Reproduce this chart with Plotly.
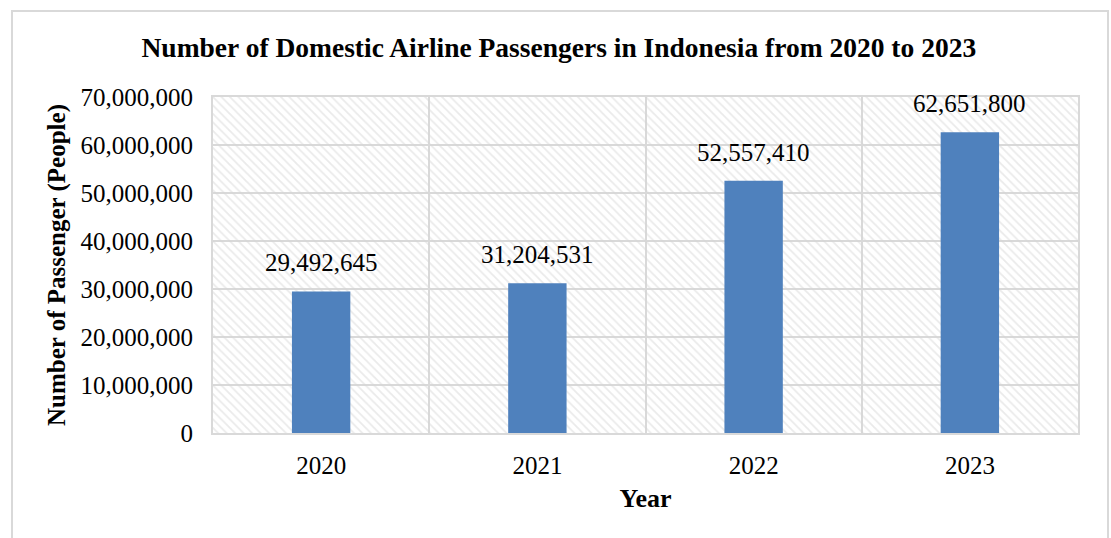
import plotly.graph_objects as go

years = ["2020", "2021", "2022", "2023"]
passengers = [29492645, 31204531, 52557410, 62651800]
y_ticks = [0, 10000000, 20000000, 30000000, 40000000, 50000000, 60000000, 70000000]

FONT = "Liberation Serif"
GRID = "#D9D9D9"
xpos = list(range(len(years)))

fig = go.Figure()

# hatched plot-area background (one full-width band per category)
fig.add_trace(go.Bar(
    x=xpos, y=[y_ticks[-1]] * len(years), width=1,
    marker=dict(color="rgba(0,0,0,0)", line=dict(width=0),
                pattern=dict(shape="\\", fgcolor="#D6D6D6", bgcolor="rgba(255,255,255,0)",
                             size=6, solidity=0.3, fillmode="overlay")),
    hoverinfo="skip", showlegend=False))

fig.add_trace(go.Bar(
    x=xpos, y=passengers, width=0.27,
    marker=dict(color="#4F81BD", line=dict(width=0)),
    showlegend=False))

for xi, v in zip(xpos, passengers):
    fig.add_annotation(x=xi, y=v, text=f"{v:,}", showarrow=False,
                       yanchor="bottom", yshift=13,
                       font=dict(family=FONT, size=25, color="#000000"))

fig.update_layout(
    width=1111, height=538,
    margin=dict(l=213, r=33, t=97, b=105),
    paper_bgcolor="white", plot_bgcolor="white",
    font=dict(family=FONT, size=25, color="#000000"),
    barmode="overlay",
    title=dict(text="<b>Number of Domestic Airline Passengers in Indonesia from 2020 to 2023</b>",
               x=0.503, xref="container", xanchor="center",
               y=1 - 47 / 538, yref="container", yanchor="middle",
               font=dict(family=FONT, size=27.5, color="#000000")),
)

fig.update_xaxes(
    range=[-0.5, len(years) - 0.5],
    tickmode="array", tickvals=xpos, ticktext=years,
    showgrid=False, zeroline=False,
    showline=True, linecolor=GRID, linewidth=2, mirror=True,
    ticks="", ticklabelstandoff=9,
    minor=dict(tickvals=[i - 0.5 for i in range(len(years) + 1)], showgrid=True,
               gridcolor=GRID, gridwidth=2, ticks=""),
    title=dict(text="<b>Year</b>", standoff=11, font=dict(family=FONT, size=26)),
)
fig.update_yaxes(
    range=[0, y_ticks[-1]],
    tickmode="array", tickvals=y_ticks, ticktext=[f"{t:,}" for t in y_ticks],
    showgrid=True, gridcolor=GRID, gridwidth=2, zeroline=False,
    showline=True, linecolor=GRID, linewidth=2, mirror=True,
    ticks="", ticklabelstandoff=13,
    title=dict(text="<b>Number of Passenger (People)</b>", standoff=8,
               font=dict(family=FONT, size=25)),
)

# outer chart frame
fig.add_shape(type="rect", xref="paper", yref="paper",
              x0=(12 - 213) / 865, x1=(1108 - 213) / 865,
              y0=(433 - 560) / 336, y1=(433 - 11) / 336,
              line=dict(color=GRID, width=2), fillcolor="rgba(0,0,0,0)", layer="below")

fig.write_html("out.html")
